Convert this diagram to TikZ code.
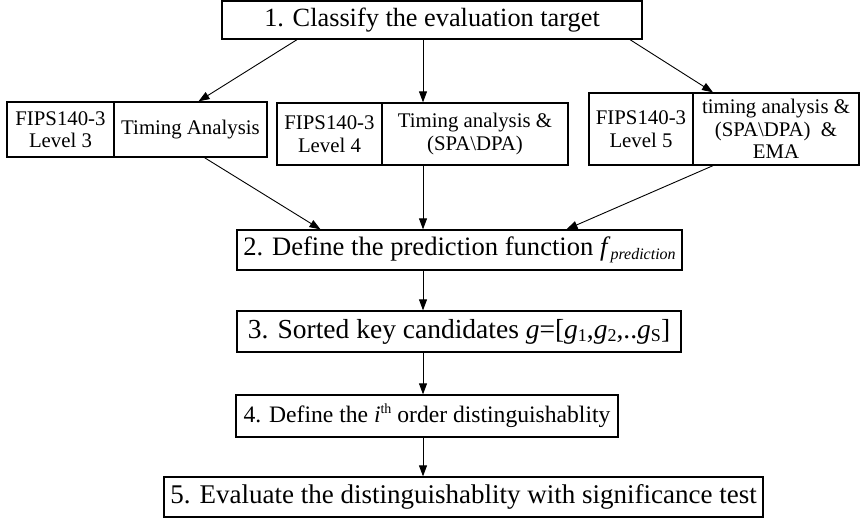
\documentclass[tikz,border=0pt]{standalone}
\usepackage{fontspec}
\setmainfont{Liberation Serif}
\usetikzlibrary{arrows.meta}
\begin{document}
\begin{tikzpicture}[x=1pt, y=-1pt,
	stepbox/.style={draw, line width=1.3pt, inner sep=0pt, align=center,
		font=\fontsize{#1}{29}\selectfont},
	stepbox/.default=26,
	levelbox/.style={draw, line width=1.3pt, inner sep=0pt, align=center,
		font=\fontsize{20.8}{22.5}\selectfont},
	link/.style={line width=0.9pt, -{Triangle[length=11pt, width=8pt]}}]
	\useasboundingbox (0, 0) rectangle (861, 520);

	%steps
	\node [stepbox=26.3, minimum width=420pt, minimum height=38pt] (classify) at (432, 20) {1. Classify the evaluation target};
	\node [stepbox=26.6, minimum width=445pt, minimum height=40pt] (predict) at (459.5, 250) {2. Define the prediction function \textit{f}{\fontsize{16}{16}\selectfont\raisebox{-4pt}{\textit{prediction}}}};
	\node [stepbox=27.5, minimum width=444pt, minimum height=41pt] (sorted) at (459, 331.5) {3. Sorted key candidates \textit{g}=[\textit{g}{\fontsize{18}{18}\selectfont\raisebox{-3pt}{1}},\textit{g}{\fontsize{18}{18}\selectfont\raisebox{-3pt}{2}},..\textit{g}{\fontsize{18}{18}\selectfont\raisebox{-3pt}{S}}]};
	\node [stepbox=23.6, minimum width=382pt, minimum height=42pt] (order) at (427, 416) {4. Define the \textit{i}{\fontsize{14}{14}\selectfont\raisebox{9pt}{th}} order distinguishablity};
	\node [stepbox=27, minimum width=599pt, minimum height=40pt] (evaluate) at (463.5, 497) {5. Evaluate the distinguishablity with significance test};

	%levels
	\node [levelbox, minimum width=107pt, minimum height=55pt] (lvl3) at (60.5, 129.5) {FIPS140-3\\Level 3};
	\node [levelbox, minimum width=153pt, minimum height=55pt] (ana3) at (190.5, 129.5) {Timing Analysis};
	\node [levelbox, minimum width=105pt, minimum height=62pt] (lvl4) at (329.5, 134) {FIPS140-3\\Level 4};
	\node [levelbox, minimum width=186pt, minimum height=62pt] (ana4) at (475, 134) {Timing analysis \&\\(SPA\textbackslash DPA)};
	\node [levelbox, minimum width=104pt, minimum height=72pt] (lvl5) at (641, 129) {FIPS140-3\\Level 5};
	\node [levelbox, minimum width=166pt, minimum height=72pt] (ana5) at (776, 129) {timing analysis \&\\(SPA\textbackslash DPA)~ \&\\EMA};

	%arrows
	\coordinate (axis) at (423, 0);
	\draw [link] ([xshift=-135pt]classify.south) -- ([xshift=8pt]ana3.north);
	\draw [link] (classify.south -| axis) -- (ana4.north -| axis);
	\draw [link] ([xshift=198pt]classify.south) -- ([xshift=-63pt]ana5.north);
	\draw [link] ([xshift=14pt]ana3.south) -- ([xshift=-139pt]predict.north);
	\draw [link] (ana4.south -| axis) -- (predict.north -| axis);
	\draw [link] ([xshift=-63pt]ana5.south) -- ([xshift=107pt]predict.north);
	\draw [link] (predict.south -| axis) -- (sorted.north -| axis);
	\draw [link] (sorted.south -| axis) -- (order.north -| axis);
	\draw [link] (order.south -| axis) -- (evaluate.north -| axis);

\end{tikzpicture}
\end{document}
